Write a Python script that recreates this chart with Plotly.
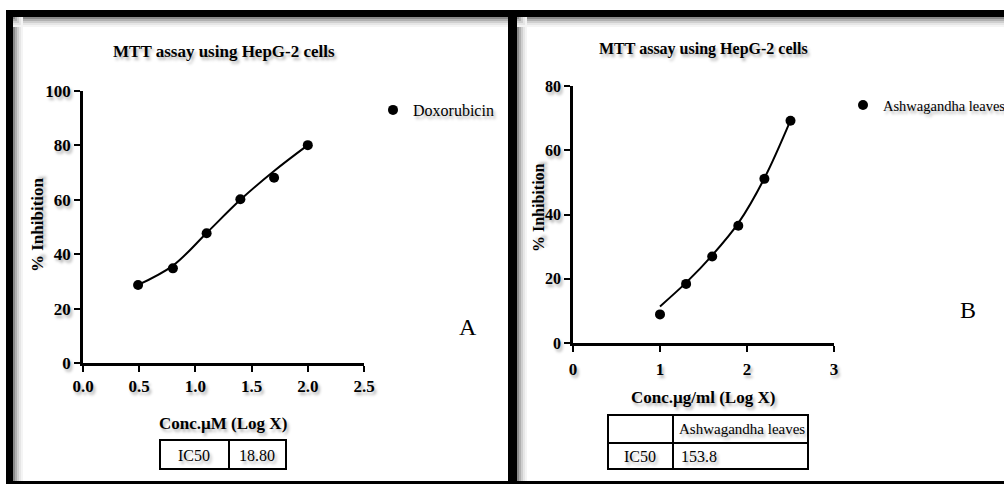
import plotly.graph_objects as go

# Canvas size in pixels
W, H = 1004, 484


def px(x):
    return x / W


def py(y):
    return 1 - y / H


# Panel A: Doxorubicin (log concentration, µM)
dox_logx = [0.49, 0.80, 1.10, 1.40, 1.70, 2.00]
dox_inhib = [28.7, 34.8, 47.7, 60.2, 68.1, 80.1]
dox_fit = [28.7, 35.8, 47.8, 60.0, 70.6, 80.1]
dox_ic50 = "18.80"

# Panel B: Ashwagandha leaves extract (log concentration, µg/ml)
ash_logx = [1.00, 1.30, 1.60, 1.90, 2.20, 2.50]
ash_inhib = [8.9, 18.4, 26.9, 36.5, 51.1, 69.2]
ash_fit = [11.4, 18.8, 27.3, 37.3, 51.3, 69.3]
ash_ic50 = "153.8"

TITLE = "MTT assay using HepG-2 cells"
SERIF = "Liberation Serif"
SHADOW = "2px 3px 3px rgba(0,0,0,0.30)"

fig = go.Figure()

# fitted curves
fig.add_trace(go.Scatter(x=dox_logx, y=dox_fit, mode="lines",
                         line=dict(color="black", width=2, shape="spline", smoothing=1.0),
                         showlegend=False, hoverinfo="skip", xaxis="x", yaxis="y"))
fig.add_trace(go.Scatter(x=ash_logx, y=ash_fit, mode="lines",
                         line=dict(color="black", width=2, shape="spline", smoothing=1.0),
                         showlegend=False, hoverinfo="skip", xaxis="x2", yaxis="y2"))

# measured points
fig.add_trace(go.Scatter(x=dox_logx, y=dox_inhib, mode="markers", name="Doxorubicin",
                         marker=dict(color="black", size=10), legend="legend",
                         xaxis="x", yaxis="y"))
fig.add_trace(go.Scatter(x=ash_logx, y=ash_inhib, mode="markers", name="Ashwagandha leaves",
                         marker=dict(color="black", size=10), legend="legend2",
                         xaxis="x2", yaxis="y2"))


def axis_style(size):
    return dict(showline=True, linewidth=2.5, linecolor="black", ticks="outside",
                ticklen=6, tickwidth=2, tickcolor="black", showgrid=False,
                zeroline=False, fixedrange=True, automargin=False,
                tickfont=dict(family=SERIF, size=size, color="black",
                              weight="bold", shadow=SHADOW))


fig.update_layout(
    width=W, height=H,
    margin=dict(l=0, r=0, t=0, b=0, pad=0, autoexpand=False),
    paper_bgcolor="white", plot_bgcolor="white",
    xaxis=dict(domain=[px(83), px(364)], range=[0, 2.5], dtick=0.5, tickformat=".1f",
               anchor="y", ticklabelstandoff=0, **axis_style(17)),
    yaxis=dict(domain=[py(363), py(91)], range=[0, 100], dtick=20,
               anchor="x", **axis_style(17)),
    xaxis2=dict(domain=[px(573), px(834)], range=[0, 3], dtick=1,
                anchor="y2", ticklabelstandoff=3, **axis_style(17)),
    yaxis2=dict(domain=[py(343), py(86)], range=[0, 80], dtick=20,
                anchor="x2", **axis_style(16)),
    legend=dict(x=px(373), y=py(110), xanchor="left", yanchor="middle",
                bgcolor="rgba(0,0,0,0)", borderwidth=0,
                font=dict(family=SERIF, size=16, color="black", shadow=SHADOW)),
    legend2=dict(x=px(843), y=py(105), xanchor="left", yanchor="middle",
                 bgcolor="rgba(0,0,0,0)", borderwidth=0,
                 font=dict(family=SERIF, size=14.5, color="black", shadow=SHADOW)),
)

shapes = []


def rect(x0, y0, x1, y1, fill=None, line_w=0, line_c="black"):
    shapes.append(dict(type="rect", xref="paper", yref="paper",
                       x0=px(x0), x1=px(x1), y0=py(y1), y1=py(y0),
                       fillcolor=fill if fill else "rgba(0,0,0,0)",
                       line=dict(width=line_w, color=line_c), layer="above"))


def seg(x0, y0, x1, y1, w=2):
    shapes.append(dict(type="line", xref="paper", yref="paper",
                       x0=px(x0), x1=px(x1), y0=py(y0), y1=py(y1),
                       line=dict(width=w, color="black"), layer="above"))


# soft inner shading along the frame bars
grays = ["#8a8a8a", "#b0b0b0", "#cfcfcf", "#e6e6e6", "#f4f4f4"]
for i, g in enumerate(grays):
    rect(13 + 2 * i, 17, 15 + 2 * i, 481, fill=g)
    rect(13, 17 + 2 * i, 508, 19 + 2 * i, fill=g)
    rect(517 + 2 * i, 17, 519 + 2 * i, 481, fill=g)
    rect(517, 17 + 2 * i, W, 19 + 2 * i, fill=g)

# frame bars
rect(6, 10, W, 17, fill="black")
rect(6, 10, 13, H, fill="black")
rect(508, 10, 517, H, fill="black")
rect(6, 481, W, H, fill="black")

# IC50 tables
rect(160, 440, 286, 469, line_w=2)
seg(229, 440, 229, 469)
rect(608, 415, 808, 469, line_w=2)
seg(608, 443, 808, 443)
seg(673, 415, 673, 469)

fig.update_layout(shapes=shapes)


def note(x, y, text, size=16, bold=False, angle=0, xanchor="center", shadow=SHADOW):
    fig.add_annotation(xref="paper", yref="paper", x=px(x), y=py(y), text=text,
                       showarrow=False, xanchor=xanchor, yanchor="middle",
                       textangle=angle,
                       font=dict(family=SERIF, size=size, color="black",
                                 weight="bold" if bold else "normal", shadow=shadow))


# panel titles
note(224, 52, TITLE, size=17, bold=True)
note(703, 49, TITLE, size=16, bold=True)

# axis titles
note(38, 225, "% Inhibition", size=17, bold=True, angle=-90)
note(538, 208, "% Inhibition", size=16, bold=True, angle=-90)
note(223, 423, "Conc.µM (Log X)", size=17, bold=True)
note(703, 397, "Conc.µg/ml (Log X)", size=17, bold=True)

# table contents
note(194, 455, "IC50", size=16)
note(257, 455, dox_ic50, size=16)
note(677, 429, "Ashwagandha leaves", size=15, xanchor="left")
note(640, 456, "IC50", size=16)
note(679, 456, ash_ic50, size=16, xanchor="left")

# panel letters
note(468, 327, "A", size=24, shadow="none")
note(968, 310, "B", size=24, shadow="none")

fig.write_html("out.html")
